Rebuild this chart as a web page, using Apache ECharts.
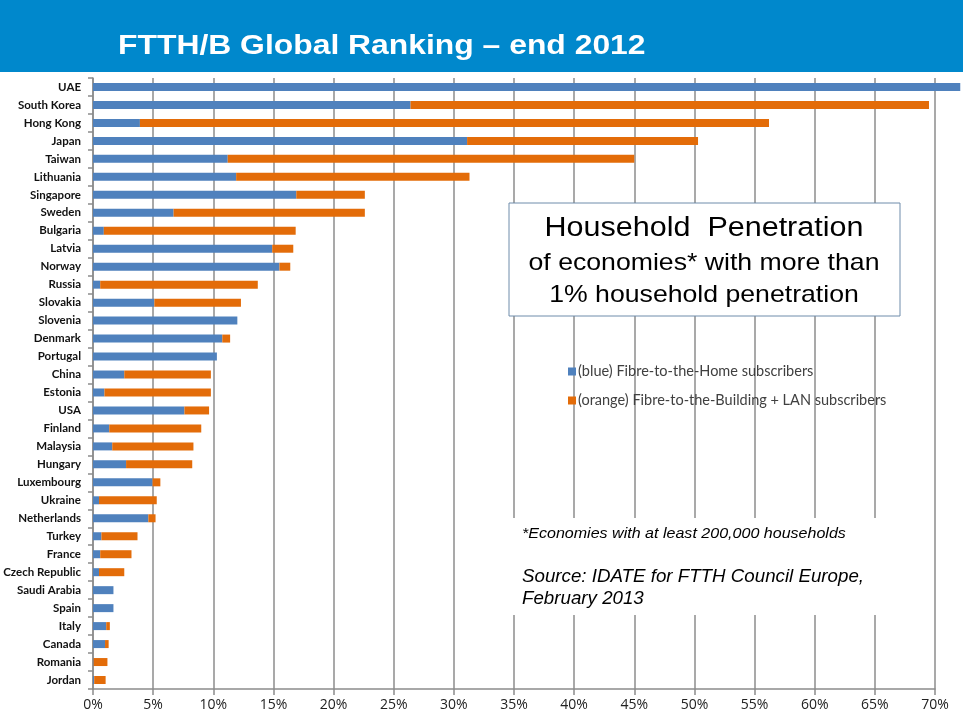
<!DOCTYPE html>
<html>
<head>
<meta charset="utf-8">
<script src="https://cdn.jsdelivr.net/npm/echarts@6/dist/echarts.min.js"></script>
<style>html,body{margin:0;padding:0;background:#fff}#c{width:963px;height:719px}</style>
</head>
<body>
<div id="c"></div>
<script>
const categories = ["UAE","South Korea","Hong Kong","Japan","Taiwan","Lithuania","Singapore","Sweden","Bulgaria","Latvia","Norway","Russia","Slovakia","Slovenia","Denmark","Portugal","China","Estonia","USA","Finland","Malaysia","Hungary","Luxembourg","Ukraine","Netherlands","Turkey","France","Czech Republic","Saudi Arabia","Spain","Italy","Canada","Romania","Jordan"];
const ftth = [72.1,26.4,3.9,31.1,11.2,11.9,16.9,6.7,0.9,14.9,15.5,0.6,5.1,12.0,10.75,10.3,2.6,0.95,7.6,1.35,1.6,2.75,4.95,0.5,4.6,0.7,0.6,0.5,1.7,1.7,1.1,1.0,0.05,0.1];
const ftthTotal = [72.1,69.5,56.2,50.3,45.0,31.3,22.6,22.6,16.85,16.65,16.4,13.7,12.3,12.0,11.4,10.3,9.8,9.8,9.65,9.0,8.35,8.25,5.6,5.3,5.2,3.7,3.2,2.6,1.7,1.7,1.4,1.3,1.2,1.05];
const fttbLan = ftthTotal.map((t,i)=>Math.max(0, +(t - ftth[i]).toFixed(2)));
const xTicks = [0,5,10,15,20,25,30,35,40,45,50,55,60,65,70];
const seriesNames = ["(blue) Fibre-to-the-Home subscribers","(orange) Fibre-to-the-Building + LAN subscribers"];

const chart = echarts.init(document.getElementById('c'));
const gridColor = '#8c8c8c';
function txt(t, x, y, font, sx, align){
  return {type:'text', z:101, silent:true, x:x, y:y, scaleX:sx,
    style:{text:t, x:0, y:0, textAlign:align||'left', textVerticalAlign:'middle', font:font, fill:'#000'}};
}
const title = txt('FTTH/B Global Ranking – end 2012', 118, 47, 'bold 27px "Liberation Sans", Arial', 1.18);
title.style.fill = '#fff';
chart.setOption({
  animation:false,
  legend:{orient:'vertical', left:563, top:359, itemWidth:8, itemHeight:8, itemGap:14,
    icon:'rect', data:seriesNames,
    textStyle:{fontFamily:'Lato', fontSize:14.5, color:'#404040', padding:[0,0,0,-3]}},
  grid:{left:93, right:28, top:78, bottom:30, containLabel:false, outerBoundsMode:'none'},
  xAxis:{type:'value', min:xTicks[0], max:xTicks[xTicks.length-1], interval:5,
    axisLine:{show:true, lineStyle:{color:gridColor, width:1.5}},
    axisTick:{show:true, length:6, lineStyle:{color:gridColor, width:1.5}},
    splitLine:{show:true, lineStyle:{color:gridColor, width:1.5}},
    axisLabel:{formatter:'{value}%', color:'#222', fontFamily:'Open Sans', fontSize:14, margin:9}},
  yAxis:{type:'category', data:categories, inverse:true,
    axisLine:{show:true, lineStyle:{color:gridColor, width:1.5}},
    axisTick:{show:true, length:5, lineStyle:{color:gridColor, width:1.5}},
    axisLabel:{color:'#111', fontFamily:'Lato', fontWeight:'bold', fontSize:11.5, margin:12}},
  series:[
    {name:seriesNames[0], type:'bar', stack:'a', data:ftth, barWidth:8, clip:false,
      itemStyle:{color:'#4f81bd'}},
    {name:seriesNames[1], type:'bar', stack:'a', data:fttbLan, barWidth:8, clip:false,
      itemStyle:{color:'#e36c09'}}
  ],
  graphic:[
    {type:'rect', z:-10, silent:true, shape:{x:0,y:0,width:963,height:72}, style:{fill:'#0088cc'}},
    title,
    {type:'rect', z:100, shape:{x:509,y:203,width:391,height:113}, style:{fill:'#fff', stroke:'#6e8cab', lineWidth:1}},
    txt('Household  Penetration', 704, 229, '27px "Liberation Sans", Arial', 1.13, 'center'),
    txt('of economies* with more than', 704, 263, '24px "Liberation Sans", Arial', 1.11, 'center'),
    txt('1% household penetration', 704, 295, '24px "Liberation Sans", Arial', 1.11, 'center'),
    {type:'rect', z:100, shape:{x:505,y:518,width:395,height:97}, style:{fill:'#fff'}},
    txt('*Economies with at least 200,000 households', 522, 534, 'italic 15px "Liberation Sans", Arial', 1.07),
    txt('Source: IDATE for FTTH Council Europe,', 522, 577, 'italic 17.5px "Liberation Sans", Arial', 1.07),
    txt('February 2013', 522, 599, 'italic 17.5px "Liberation Sans", Arial', 1.07)
  ]
});
</script>
</body>
</html>
